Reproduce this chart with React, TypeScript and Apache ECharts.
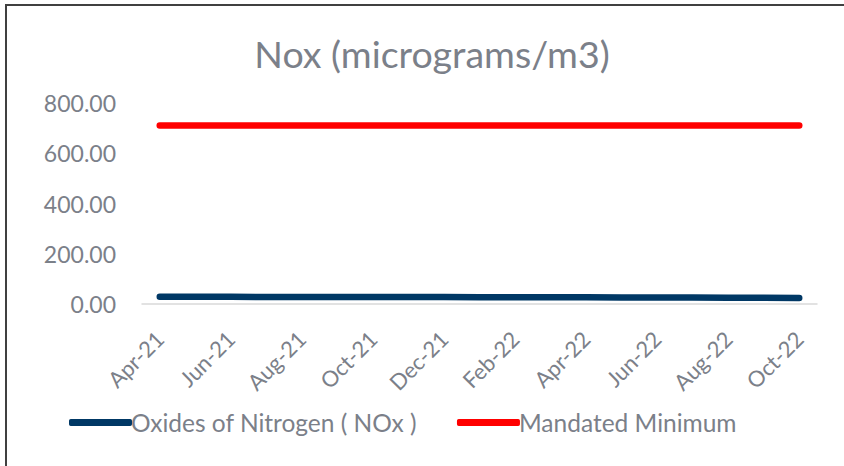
import React, { useEffect, useRef } from "react";
import * as echarts from "echarts";

const categories = [
  "Apr-21", "May-21", "Jun-21", "Jul-21", "Aug-21", "Sep-21", "Oct-21", "Nov-21", "Dec-21", "Jan-22",
  "Feb-22", "Mar-22", "Apr-22", "May-22", "Jun-22", "Jul-22", "Aug-22", "Sep-22", "Oct-22",
];
const noxValues = [29, 29, 29, 28, 28, 28, 28, 28, 28, 27, 27, 27, 27, 26, 26, 26, 25, 25, 24];
const mandatedValues = [710, 710, 710, 710, 710, 710, 710, 710, 710, 710, 710, 710, 710, 710, 710, 710, 710, 710, 710];
const seriesNames = ["Oxides of Nitrogen ( NOx )", "Mandated Minimum"];
const yTicks = { min: 0, max: 800, interval: 200 };
const titleText = "Nox (micrograms/m3)";

const FONT = "Lato, 'Open Sans', sans-serif";
const TEXT = "#7b8089";

export default function App() {
  const ref = useRef<HTMLDivElement>(null);
  useEffect(() => {
    document.body.style.margin = "0";
    const chart = echarts.init(ref.current!, null, { renderer: "svg" });
    chart.setOption({
      animation: false,
      backgroundColor: "#ffffff",
      textStyle: { fontFamily: FONT },
      title: {
        text: titleText,
        left: 427,
        top: 29,
        textAlign: "center",
        textStyle: { fontFamily: FONT, fontSize: 37.5, fontWeight: "normal", color: TEXT },
      },
      graphic: [
        {
          type: "rect",
          shape: { x: 6, y: 5, width: 900, height: 600 },
          style: { fill: "none", stroke: "#404040", lineWidth: 2 },
          silent: true,
        },
      ],
      legend: {
        left: 64,
        top: 405,
        icon: "roundRect",
        itemWidth: 63,
        itemHeight: 7,
        itemGap: 40,
        textStyle: { fontFamily: FONT, fontSize: 24.5, color: TEXT, padding: [0, 0, 0, -6] },
        data: seriesNames,
      },
      grid: { left: 142, right: 27, top: 103, bottom: 162, containLabel: false },
      xAxis: {
        type: "category",
        data: categories,
        boundaryGap: true,
        axisLine: { lineStyle: { color: "#d9d9d9", width: 1.5 } },
        axisTick: { interval: 1, length: 8, lineStyle: { color: "#d9d9d9", width: 1.5 } },
        axisLabel: {
          interval: 1,
          rotate: 45,
          margin: 31,
          fontFamily: FONT,
          fontSize: 22,
          color: TEXT,
        },
      },
      yAxis: {
        type: "value",
        min: yTicks.min,
        max: yTicks.max,
        interval: yTicks.interval,
        axisLine: { show: false },
        axisTick: { show: false },
        splitLine: { show: false },
        axisLabel: {
          margin: 26,
          fontFamily: FONT,
          fontSize: 23,
          color: TEXT,
          formatter: (v: number) => v.toFixed(2),
        },
      },
      series: [
        {
          name: seriesNames[0],
          type: "line",
          data: noxValues,
          showSymbol: false,
          symbol: "none",
          itemStyle: { color: "#003865" },
          lineStyle: { color: "#003865", width: 6.5, cap: "round", join: "round" },
        },
        {
          name: seriesNames[1],
          type: "line",
          data: mandatedValues,
          showSymbol: false,
          symbol: "none",
          itemStyle: { color: "#ff0000" },
          lineStyle: { color: "#ff0000", width: 6.5, cap: "round", join: "round" },
        },
      ],
    });
    return () => chart.dispose();
  }, []);
  return <div ref={ref} style={{ width: 844, height: 466 }} />;
}
